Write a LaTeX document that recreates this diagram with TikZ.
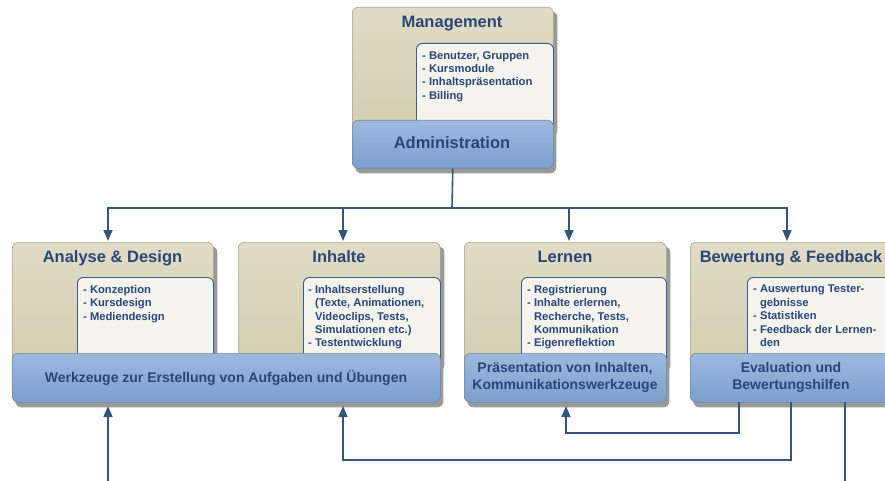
\documentclass[tikz,border=0pt]{standalone}
\usepackage{fontspec}
\setmainfont{Liberation Sans}
\usetikzlibrary{shadows,arrows.meta}

\definecolor{tanTop}{HTML}{E0DCC6}
\definecolor{tanBot}{HTML}{D3CEB0}
\definecolor{tanLine}{HTML}{A9A590}
\definecolor{noteFill}{HTML}{F4F3EE}
\definecolor{noteLine}{HTML}{3B5C8C}
\definecolor{barTop}{HTML}{9DB9DE}
\definecolor{barBot}{HTML}{7C9FCF}
\definecolor{barLine}{HTML}{76869A}
\definecolor{ink}{HTML}{2A4677}
\definecolor{wire}{HTML}{36547F}
\definecolor{shade}{HTML}{9A9A9A}

\tikzset{
  tanbox/.style={anchor=north west, inner sep=0, draw=tanLine, line width=0.6pt,
    rounded corners=6pt, top color=tanTop, bottom color=tanBot,
    drop shadow={shadow xshift=4pt, shadow yshift=-4pt, fill=shade, opacity=1}},
  notebox/.style={anchor=north west, inner sep=0, draw=noteLine, line width=0.9pt,
    rounded corners=6pt, fill=noteFill},
  barbox/.style={anchor=north west, inner sep=0, draw=barLine, line width=0.6pt,
    rounded corners=6pt, top color=barTop, bottom color=barBot,
    drop shadow={shadow xshift=3pt, shadow yshift=-5pt, fill=shade, opacity=1}},
  title/.style={anchor=base, inner sep=0, text=ink, font=\fontsize{16.5}{19}\selectfont\bfseries},
  bartext/.style={anchor=base, inner sep=0, text=ink, align=center,
    font=\fontsize{14}{16.5}\selectfont\bfseries},
  listtext/.style={anchor=north west, inner sep=0, text=ink, align=left,
    font=\fontsize{11.2}{13.4}\selectfont\bfseries},
  wireline/.style={draw=wire, line width=1.6pt},
  arr/.style={wireline, -{Triangle[length=11pt,width=9pt]}},
}
\newcommand{\cont}{\hphantom{- }}

\begin{document}
\begin{tikzpicture}[x=1pt, y=-1pt]
\useasboundingbox (0,0) rectangle (885,481);
\clip (0,0) rectangle (885,481);

% ---------- Management / Administration ----------
\node[tanbox, minimum width=201pt, minimum height=125pt] (mgmt) at (352,7) {};
\node[notebox, minimum width=137pt, minimum height=85pt] (mgmtNote) at (416,43) {};
\node[title] (mgmtTitle) at (452,28) {Management};
\node[listtext] (mgmtList) at (422,51) {- Benutzer, Gruppen\\- Kursmodule\\- Inhaltspräsentation\\- Billing};
\node[barbox, minimum width=201pt, minimum height=48pt] (adm) at (352,120) {};
\node[title] (admText) at (452,149) {Administration};

% ---------- Analyse & Design ----------
\node[tanbox, minimum width=201pt, minimum height=125pt] (ad) at (12,242) {};
\node[notebox, minimum width=136pt, minimum height=85pt] (adNote) at (77,277) {};
\node[title] (adTitle) at (112.5,262) {Analyse \& Design};
\node[listtext] (adList) at (83,285) {- Konzeption\\- Kursdesign\\- Mediendesign};

% ---------- Inhalte ----------
\node[tanbox, minimum width=202pt, minimum height=125pt] (inh) at (238,242) {};
\node[notebox, minimum width=137pt, minimum height=85pt] (inhNote) at (303,277) {};
\node[title] (inhTitle) at (339,262) {Inhalte};
\node[listtext] (inhList) at (308,285) {- Inhaltserstellung\\\cont(Texte, Animationen,\\\cont Videoclips, Tests,\\\cont Simulationen etc.)\\- Testentwicklung};

% ---------- Lernen ----------
\node[tanbox, minimum width=202pt, minimum height=125pt] (lrn) at (464,242) {};
\node[notebox, minimum width=145pt, minimum height=85pt] (lrnNote) at (521,277) {};
\node[title] (lrnTitle) at (565,262) {Lernen};
\node[listtext] (lrnList) at (527,285) {- Registrierung\\- Inhalte erlernen,\\\cont Recherche, Tests,\\\cont Kommunikation\\- Eigenreflektion};

% ---------- Bewertung & Feedback ----------
\node[tanbox, minimum width=202pt, minimum height=125pt] (bew) at (690,242) {};
\node[notebox, minimum width=145pt, minimum height=85pt] (bewNote) at (747,277) {};
\node[title] (bewTitle) at (791,262) {Bewertung \& Feedback};
\node[listtext] (bewList) at (753,285) {- Auswertung Tester-\\\cont gebnisse\\- Statistiken\\- Feedback der Lernen-\\\cont den};

% ---------- tool bars (multi-line labels sit on their last baseline) ----------
\node[barbox, minimum width=428pt, minimum height=49pt] (wz) at (12,353) {};
\node[bartext] (wzText) at (226,382) {Werkzeuge zur Erstellung von Aufgaben und Übungen};
\node[barbox, minimum width=202pt, minimum height=49pt] (pk) at (464,353) {};
\node[bartext] (pkText) at (565,389) {Präsentation von Inhalten,\\Kommunikationswerkzeuge};
\node[barbox, minimum width=202pt, minimum height=49pt] (ev) at (690,353) {};
\node[bartext] (evText) at (791,389) {Evaluation und\\Bewertungshilfen};

% ---------- distribution from Administration ----------
\coordinate (hub) at (452,208);
\coordinate (adIn) at (108,241);
\coordinate (inhIn) at (343,241);
\coordinate (lrnIn) at (569,241);
\coordinate (bewIn) at (787,241);
\draw[wireline] (adm.south) -- (hub);
\draw[arr] (hub) -| (adIn);
\draw[arr] (hub) -| (inhIn);
\draw[arr] (hub) -| (lrnIn);
\draw[arr] (hub) -| (bewIn);

% ---------- feedback loops below ----------
\coordinate (extIn) at (108,481);
\coordinate (wzA) at (108,406);
\coordinate (wzB) at (343,406);
\coordinate (pkB) at (566,406);
\coordinate (evA) at (739,402);
\coordinate (evB) at (791,402);
\coordinate (evC) at (845,402);
\coordinate (extOut) at (845,481);
\draw[arr] (extIn) -- (wzA);
\draw[arr] (evB) -- ++(0,58) -| (wzB);
\draw[arr] (evA) -- ++(0,31) -| (pkB);
\draw[wireline] (evC) -- (extOut);
\end{tikzpicture}
\end{document}
